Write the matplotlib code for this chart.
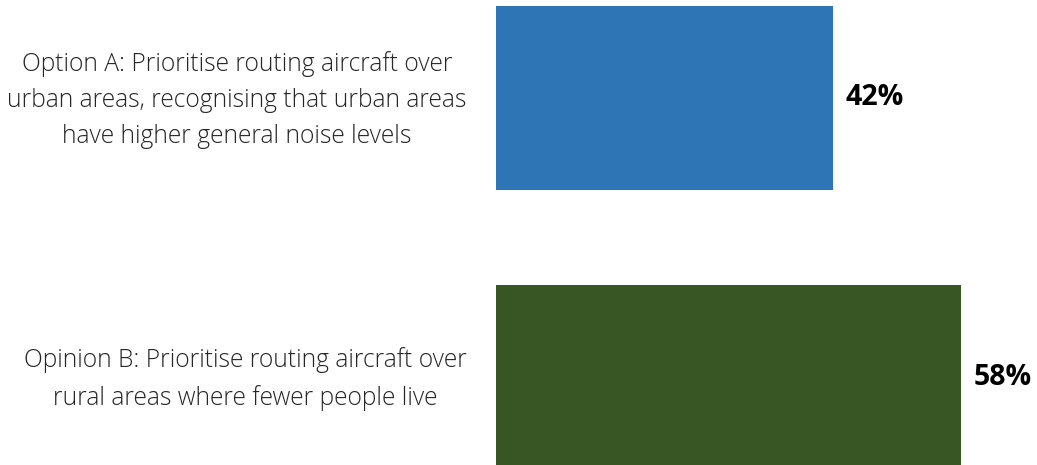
import matplotlib.pyplot as plt

# survey options and share of responses (%)
options = [
    "Option A: Prioritise routing aircraft over\nurban areas, recognising that urban areas\nhave higher general noise levels",
    "Opinion B: Prioritise routing aircraft over\nrural areas where fewer people live",
]
shares = [42, 58]
colors = ["#2E75B6", "#375623"]

plt.rcParams['font.family'] = ['Open Sans', 'DejaVu Sans']

fig = plt.figure(figsize=(10.37, 4.65), dpi=100)
ax = fig.add_axes([496 / 1037, 0, 1 - 496 / 1037, 1])

pos = list(range(len(options)))
bars = ax.barh(pos, shares, height=0.66, color=colors)
ax.bar_label(bars, labels=[f"{v}%" for v in shares], padding=9,
             fontsize=20.5, fontweight='bold', color='black')

# category labels to the left of the bars
for y, text in zip(pos, options):
    ax.annotate(text, xy=(0, y), xytext=(-21, -1.5), textcoords='offset points',
                ha='right', va='center', multialignment='center',
                fontsize=17.7, fontweight='light', color='#262626',
                linespacing=1.58, annotation_clip=False)

ax.set_xlim(0, 67.45)
ax.set_ylim(1.315, -0.351)
ax.set_xticks([])
ax.set_yticks([])

for s in ax.spines.values():
    s.set_visible(False)

fig.savefig("out.png", dpi=100)
